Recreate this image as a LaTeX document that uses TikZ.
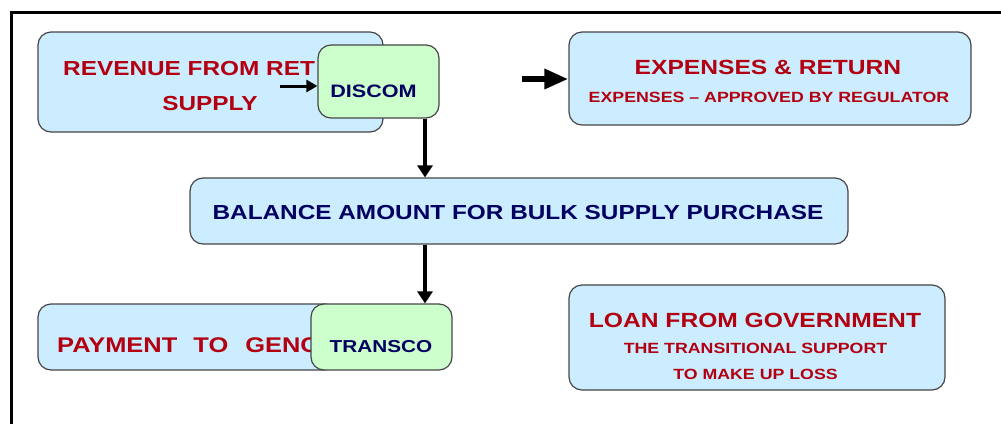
\documentclass[tikz,border=0pt]{standalone}
\usepackage{fontspec}
\setmainfont{Liberation Sans}[FakeStretch=1.2]
\usetikzlibrary{arrows.meta}
\definecolor{boxblue}{RGB}{204,236,255}
\definecolor{boxgreen}{RGB}{204,255,204}
\definecolor{txtred}{RGB}{178,0,16}
\definecolor{txtnavy}{RGB}{0,0,96}
\definecolor{edgegray}{RGB}{70,70,70}
\tikzset{
  bluebox/.style={draw=edgegray, line width=1.2pt, fill=boxblue, rounded corners=13pt, inner sep=0pt},
  greenbox/.style={draw=edgegray, line width=1.2pt, fill=boxgreen, rounded corners=13pt, inner sep=0pt},
  redtxt/.style={text=txtred, font=\bfseries, inner sep=0pt},
  navytxt/.style={text=txtnavy, font=\bfseries, inner sep=0pt},
  flow/.style={line width=4pt, -{Triangle[length=12pt,width=15pt]}},
}
\begin{document}
\begin{tikzpicture}[x=1pt,y=-1pt]
\useasboundingbox (0,0) rectangle (1001,424);
\fill[white] (0,0) rectangle (1001,424);
% frame (only top and left edges visible)
\draw[line width=3pt] (11,424) -- (11,12.5) -- (1001,12.5);

% revenue + discom
\node[bluebox, minimum width=345pt, minimum height=100pt] (rev) at (210.5,82) {};
\node[redtxt, anchor=base west, font=\bfseries\fontsize{20.3}{22}\selectfont] (rev1) at (63,75) {REVENUE FROM RET};
\node[redtxt, anchor=base, font=\bfseries\fontsize{20.3}{22}\selectfont] (rev2) at (210,110) {SUPPLY};
\node[greenbox, minimum width=121pt, minimum height=73pt] (discom) at (378.5,81.5) {};
\node[navytxt, anchor=base, font=\bfseries\fontsize{18}{20}\selectfont] (discomt) at (373.5,97) {DISCOM};

% expenses
\node[bluebox, minimum width=402pt, minimum height=93pt] (exp) at (770,78.5) {};
\node[redtxt, anchor=base, font=\bfseries\fontsize{20.5}{22}\selectfont] (exp1) at (768,74) {EXPENSES \& RETURN};
\node[redtxt, anchor=base, font=\bfseries\fontsize{14.8}{16}\selectfont] (exp2) at (769,102) {EXPENSES -- APPROVED BY REGULATOR};

% balance
\node[bluebox, minimum width=658pt, minimum height=66pt] (bal) at (519,211) {};
\node[navytxt, anchor=base, font=\bfseries\fontsize{20.3}{22}\selectfont] (balt) at (518,219) {BALANCE AMOUNT FOR BULK SUPPLY PURCHASE};

% payment + transco
\node[bluebox, minimum width=300pt, minimum height=66pt] (pay) at (188,337) {};
\node[redtxt, anchor=base west, font=\bfseries\fontsize{21.2}{23}\selectfont] (payt) at (57,352) {PAYMENT\hspace*{9pt} TO\hspace*{10pt} GENC};
\node[greenbox, minimum width=141pt, minimum height=66pt] (transco) at (381.5,337) {};
\node[navytxt, anchor=base, font=\bfseries\fontsize{17.3}{19}\selectfont] (transcot) at (381,352) {TRANSCO};

% loan
\node[bluebox, minimum width=376pt, minimum height=105pt] (loan) at (757,337.5) {};
\node[redtxt, anchor=base, font=\bfseries\fontsize{20.5}{22}\selectfont] (loan1) at (755,327) {LOAN FROM GOVERNMENT};
\node[redtxt, anchor=base, font=\bfseries\fontsize{14.8}{16}\selectfont] (loan2) at (755.5,353) {THE TRANSITIONAL SUPPORT};
\node[redtxt, anchor=base, font=\bfseries\fontsize{14.8}{16}\selectfont] (loan3) at (755.5,379) {TO MAKE UP LOSS};

% connectors
\coordinate (ax) at (425,0);
\coordinate (sa) at (280,86);
\coordinate (ea) at (522,79);
\draw[line width=3pt, -{Triangle[length=11pt,width=12pt]}] (sa) -- (discom.west |- sa);
\draw[line width=6pt, -{Triangle[length=24pt,width=19pt]}] (ea) -- (exp.west |- ea);
\draw[flow] (discom.south -| ax) -- (bal.north -| ax);
\draw[flow] (bal.south -| ax) -- (transco.north -| ax);
\end{tikzpicture}
\end{document}
